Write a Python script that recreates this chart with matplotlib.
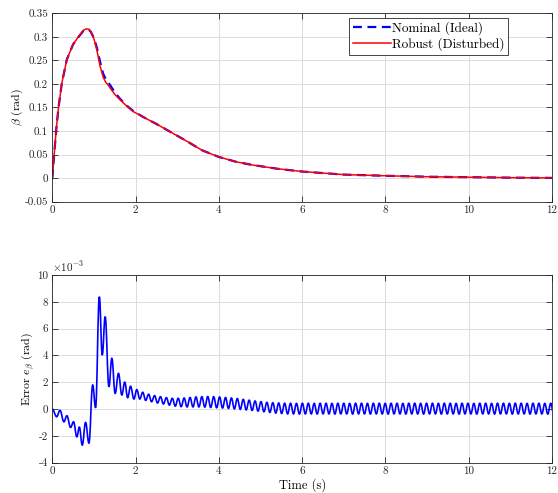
import numpy as np
import matplotlib
matplotlib.use("Agg")
import matplotlib.pyplot as plt
from matplotlib.ticker import FuncFormatter
from matplotlib.path import Path
from matplotlib.patches import PathPatch

plt.rcParams['font.family'] = 'serif'
plt.rcParams['font.serif'] = ['cmr10']
plt.rcParams['mathtext.fontset'] = 'cm'
plt.rcParams['axes.unicode_minus'] = False
plt.rcParams['axes.formatter.use_mathtext'] = True

# beta response (rad)
t_beta = [0, 0.03, 0.06, 0.1, 0.15, 0.23, 0.35, 0.5, 0.65, 0.75, 0.82, 0.88, 0.93,
          1.0, 1.07, 1.15, 1.22, 1.28, 1.33, 1.4, 1.5, 1.63, 1.8, 1.95, 2.2, 2.5,
          2.8, 3.2, 3.6, 4.0, 4.4, 4.8, 5.4, 6.0, 7.0, 8.0, 9.0, 10.0, 11.0, 12.0]
beta_robust = [0, 0.033, 0.066, 0.108, 0.15, 0.202, 0.252, 0.284, 0.303, 0.314, 0.317,
               0.316, 0.31, 0.296, 0.272, 0.237, 0.215, 0.204, 0.199, 0.19, 0.178,
               0.166, 0.152, 0.141, 0.129, 0.115, 0.100, 0.080, 0.059, 0.045, 0.035,
               0.028, 0.020, 0.014, 0.0075, 0.005, 0.003, 0.002, 0.001, 0.0005]
beta_nominal = [0, 0.033, 0.066, 0.108, 0.15, 0.202, 0.252, 0.284, 0.302, 0.313, 0.316,
                0.315, 0.31, 0.297, 0.277, 0.246, 0.222, 0.211, 0.205, 0.196, 0.182,
                0.168, 0.153, 0.142, 0.129, 0.115, 0.100, 0.080, 0.059, 0.045, 0.035,
                0.028, 0.020, 0.014, 0.0075, 0.005, 0.003, 0.002, 0.001, 0.0005]

# error e_beta (x1e-3 rad): extrema of the transient
t_err_tr = [0, 0.105, 0.185, 0.28, 0.35, 0.44, 0.51, 0.59, 0.65, 0.72, 0.80, 0.88,
            0.97, 1.04, 1.13, 1.20, 1.27, 1.36, 1.43, 1.51, 1.59, 1.67, 1.74, 1.81,
            1.88, 1.96]
e_err_tr = [0, -0.57, -0.1, -0.95, -0.5, -1.37, -0.95, -2.07, -1.35, -2.69, -1.0,
            -2.54, 1.79, 0.1, 8.38, 4.03, 6.89, 1.67, 3.78, 1.17, 2.66, 1.05, 2.0,
            0.85, 1.7, 0.75]

# steady ripple: one peak and one trough per cycle, starting at t = 2.03 s
ripple_start = 2.03
ripple_period = 0.142
ripple_peaks = [1.45, 1.25, 1.10, 1.00, 0.92, 0.85, 0.80, 0.80, 0.82, 0.86, 0.90, 0.92,
                0.93, 0.92, 0.90, 0.86, 0.82, 0.78, 0.72, 0.66, 0.60, 0.55, 0.50, 0.47,
                0.45, 0.43, 0.43, 0.42, 0.43, 0.43, 0.42, 0.43, 0.43, 0.42, 0.43, 0.43,
                0.42, 0.43, 0.43, 0.42, 0.43, 0.43, 0.42, 0.43, 0.43, 0.42, 0.43, 0.43,
                0.42, 0.43, 0.43, 0.42, 0.43, 0.43, 0.42, 0.43, 0.43, 0.42, 0.43, 0.43,
                0.42, 0.43, 0.43, 0.42, 0.43, 0.43, 0.42, 0.43, 0.43, 0.42, 0.43]
ripple_troughs = [0.75, 0.65, 0.55, 0.45, 0.38, 0.30, 0.22, 0.18, 0.16, 0.16, 0.16, 0.15,
                  0.12, 0.10, 0.08, 0.05, 0.02, -0.02, -0.06, -0.10, -0.15, -0.20, -0.25,
                  -0.30, -0.33, -0.36, -0.36, -0.37, -0.36, -0.36, -0.37, -0.36, -0.36,
                  -0.37, -0.36, -0.36, -0.37, -0.36, -0.36, -0.37, -0.36, -0.36, -0.37,
                  -0.36, -0.36, -0.37, -0.36, -0.36, -0.37, -0.36, -0.36, -0.37, -0.36,
                  -0.36, -0.37, -0.36, -0.36, -0.37, -0.36, -0.36, -0.37, -0.36, -0.36,
                  -0.37, -0.36, -0.36, -0.37, -0.36, -0.36, -0.37, -0.36]

x_ticks = [0, 2, 4, 6, 8, 10, 12]
beta_ticks = [-0.05, 0, 0.05, 0.1, 0.15, 0.2, 0.25, 0.3, 0.35]
err_ticks = [-4, -2, 0, 2, 4, 6, 8, 10]

# build the ripple sequence of extrema: peak, trough, peak, ...
n = len(ripple_peaks)
t_pk = ripple_start + ripple_period * np.arange(n)
t_rip = np.empty(2 * n)
e_rip = np.empty(2 * n)
t_rip[0::2] = t_pk
t_rip[1::2] = t_pk + ripple_period / 2
e_rip[0::2] = ripple_peaks
e_rip[1::2] = ripple_troughs
t_err = np.concatenate([t_err_tr, t_rip])
e_err = np.concatenate([e_err_tr, e_rip])

# draw the extrema as a smooth curve (flat tangents at each extremum)
verts = [(t_err[0], e_err[0])]
codes = [Path.MOVETO]
for i in range(1, len(t_err)):
    dt = t_err[i] - t_err[i - 1]
    verts += [(t_err[i - 1] + 0.4 * dt, e_err[i - 1]),
              (t_err[i] - 0.4 * dt, e_err[i]),
              (t_err[i], e_err[i])]
    codes += [Path.CURVE4] * 3
err_path = Path(verts, codes)

fig = plt.figure(figsize=(5.58, 4.93), dpi=100)
ax1 = fig.add_axes([0.0937, 0.5909, 0.8955, 0.3822])
ax2 = fig.add_axes([0.0937, 0.0615, 0.8955, 0.3807])

fmt = FuncFormatter(lambda v, p: f"{v:g}" if abs(v) > 1e-12 else "0")
for ax in (ax1, ax2):
    ax.set_xlim(0, 12)
    ax.set_xticks(x_ticks)
    ax.grid(True, color='#dcdcdc', linewidth=0.7)
    ax.set_axisbelow(True)
    ax.tick_params(direction='in', top=True, right=True, length=4, width=0.6,
                   labelsize=8, colors='#262626', pad=3)
    for s in ax.spines.values():
        s.set_color('#262626')
        s.set_linewidth(0.6)
    ax.xaxis.set_major_formatter(fmt)
    ax.yaxis.set_major_formatter(fmt)

ax1.plot(t_beta, beta_nominal, '--', color='#0000ff', lw=1.6, dashes=(4, 2.5),
         label='Nominal (Ideal)')
ax1.plot(t_beta, beta_robust, '-', color='#ff0000', lw=1.1, label='Robust (Disturbed)')
ax1.set_ylim(-0.05, 0.35)
ax1.set_yticks(beta_ticks)
ax1.set_ylabel(r'$\beta$ (rad)', fontsize=8.5, labelpad=0)
leg = ax1.legend(loc='upper right', bbox_to_anchor=(0.912, 0.975), fontsize=9.5,
                 frameon=True, fancybox=False, edgecolor='#262626', framealpha=1,
                 handlelength=2.9, borderpad=0.25, labelspacing=0.2,
                 handletextpad=0.1, borderaxespad=0)
leg.get_frame().set_linewidth(0.6)

ax2.add_patch(PathPatch(err_path, facecolor='none', edgecolor='#0000ff', lw=1.2,
                        clip_on=True))
ax2.set_ylim(-4, 10)
ax2.set_yticks(err_ticks)
ax2.set_ylabel(r'Error $e_\beta$ (rad)', fontsize=8.5, labelpad=0)
ax2.set_xlabel('Time (s)', fontsize=9, labelpad=1)
ax2.text(0.0, 1.005, r'$\times10^{-3}$', transform=ax2.transAxes, fontsize=8,
         color='#262626', ha='left', va='bottom')

fig.savefig('out.png', dpi=100)
